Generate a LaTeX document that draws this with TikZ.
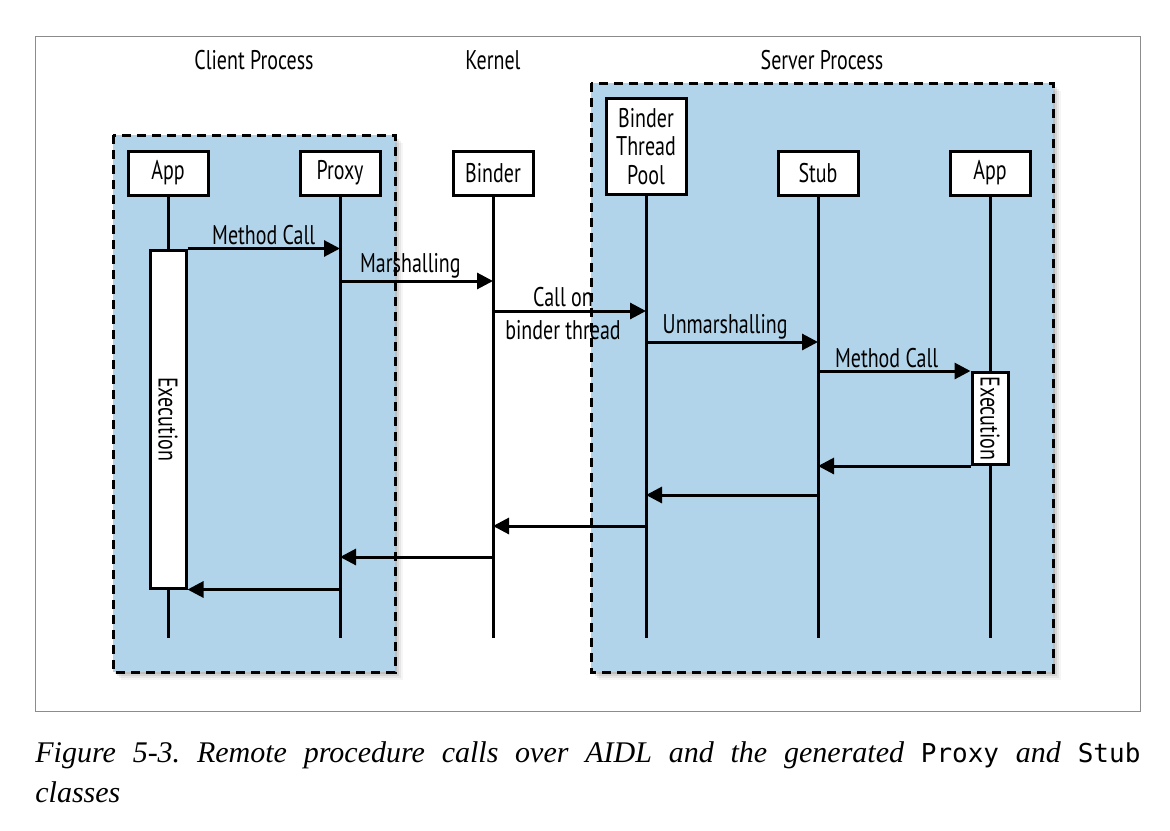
\documentclass[tikz,border=0pt]{standalone}
\usepackage{fontspec}
\setmainfont{Liberation Serif}
\newfontfamily\lblfamily[FakeStretch=0.74]{PT Sans}
\newfontfamily\capmono{DejaVu Sans Mono}
\usetikzlibrary{arrows.meta}
\definecolor{paneblue}{RGB}{178,212,234}
\definecolor{framegray}{RGB}{140,140,140}
\newcommand{\lbl}{\lblfamily\fontsize{13.5}{14}\selectfont}
\tikzset{
  lane/.style={draw=black, line width=1.5pt, dash pattern=on 4.5pt off 3pt, fill=paneblue},
  hdr/.style={draw=black, line width=1.5pt, fill=white, minimum width=40pt,
    minimum height=22pt, inner sep=0pt, font=\lbl, align=center},
  life/.style={line width=1.5pt},
  msg/.style={line width=1.5pt, -{Triangle[length=8pt,width=8pt]}},
  lbl/.style={font=\lbl, inner sep=0pt},
  execbar/.style={draw=black, line width=1.5pt, fill=white, inner sep=0pt,
    minimum width=18pt},
}
\begin{document}
\frenchspacing
\begin{tikzpicture}[x=0.5pt,y=-0.5pt]
\useasboundingbox (0,0) rectangle (1170,830);
\fill[white] (0,0) rectangle (1170,830);
\draw[framegray, line width=0.5pt] (35,36) rectangle (1140,711);

% soft shadows
\foreach \o/\op in {2/0.10,4/0.08,6/0.06,8/0.04}{
  \fill[black, opacity=\op] (113+\o,135+\o) rectangle (395+\o,672+\o);
  \fill[black, opacity=\op] (591+\o,83+\o) rectangle (1053+\o,672+\o);
}
% lanes
\path[lane] (113,135) rectangle (395,672);
\path[lane] (591,83) rectangle (1053,672);

% headings
\node[lbl] (hclient) at (254,60) {Client Process};
\node[lbl] (hkernel) at (493,60) {Kernel};
\node[lbl] (hserver) at (822,60) {Server Process};

% participants
\node[hdr] (app1) at (168,173) {App};
\node[hdr] (proxy) at (340,173) {Proxy};
\node[hdr] (binder) at (493,173) {Binder};
\node[hdr, minimum height=48pt] (pool) at (646,146.5) {Binder\\[0.2pt]Thread\\[0.2pt]Pool};
\node[hdr] (stub) at (818,173) {Stub};
\node[hdr] (app2) at (990,173) {App};

% lifelines
\foreach \p in {app1,proxy,binder,pool,stub,app2}{
  \draw[life] (\p.south) -- (\p |- 0,638);
}

% execution bars
\node[execbar, minimum height=169pt,
  label={[lbl,rotate=-90]center:Execution}] (exec1) at (168,419) {};
\node[execbar, minimum height=46pt,
  label={[lbl,rotate=-90]center:Execution}] (exec2) at (990,418.5) {};

% calls
\draw[msg] (exec1.north east) -- (exec1.north east -| proxy)
  node[lbl, midway, above=1pt] (l1) {Method Call};
\draw[msg] (proxy |- 0,281) -- (binder |- 0,281)
  node[lbl, pos=0.46, above=0.5pt] (l2) {Marshalling};
\draw[msg] (binder |- 0,311) -- (pool |- 0,311);
\node[lbl] (l3a) at (563,297) {Call on};
\node[lbl] (l3b) at (563,330) {binder thread};
\draw[msg] (pool |- 0,342) -- (stub |- 0,342)
  node[lbl, pos=0.46, above=0.5pt] (l4) {Unmarshalling};
\draw[msg] (stub |- exec2.north west) -- (exec2.north west)
  node[lbl, pos=0.45, above=1pt] (l5) {Method Call};

% returns
\draw[msg] (exec2.south west) -- (stub |- exec2.south west);
\draw[msg] (stub |- 0,495) -- (pool |- 0,495);
\draw[msg] (pool |- 0,526) -- (binder |- 0,526);
\draw[msg] (binder |- 0,557) -- (proxy |- 0,557);
\draw[msg] (proxy |- exec1.south east) -- (exec1.south east);

% caption
\node[anchor=base west, inner sep=0pt, font=\itshape\fontsize{15}{20}\selectfont] (cap1) at (35,762)
  {\makebox[552.5pt][s]{Figure 5-3. Remote procedure calls over AIDL and the generated {\upshape\capmono\fontsize{13}{20}\selectfont Proxy} and {\upshape\capmono\fontsize{13}{20}\selectfont Stub}}};
\node[anchor=base west, inner sep=0pt, font=\itshape\fontsize{15}{20}\selectfont] (cap2) at (35,802) {classes};
\end{tikzpicture}
\end{document}
